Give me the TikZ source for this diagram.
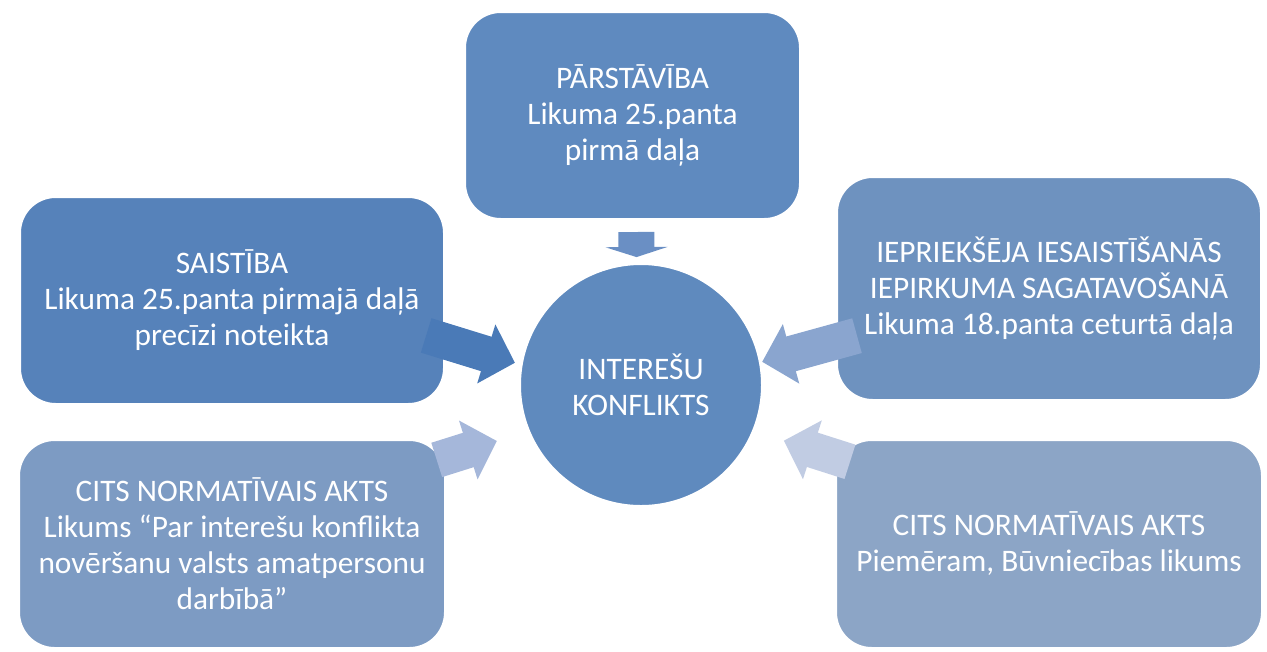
\documentclass[tikz,border=0pt]{standalone}
\usepackage{fontspec}
\setmainfont{Carlito}
\usetikzlibrary{arrows.meta,shadows}

\definecolor{parstC}{HTML}{5F8ABF}
\definecolor{saistC}{HTML}{5682BA}
\definecolor{ieprC}{HTML}{6E92BF}
\definecolor{citsAC}{HTML}{7D9BC3}
\definecolor{citsBC}{HTML}{8CA5C6}
\definecolor{konfC}{HTML}{5F8ABE}
\definecolor{aParst}{HTML}{6A8FC4}
\definecolor{aSaist}{HTML}{4A7AB7}
\definecolor{aIepr}{HTML}{8AA5CF}
\definecolor{aCitsA}{HTML}{A5B7DA}
\definecolor{aCitsB}{HTML}{C1CCE3}

\tikzset{
  box/.style={rectangle, rounded corners=29pt, draw=white, line width=6pt,
    text=white, align=center, inner sep=0pt,
    font=\fontsize{23.5pt}{27pt}\selectfont,
    drop shadow={shadow xshift=1pt, shadow yshift=-1.6pt, opacity=0.28}},
  blk/.style={line width=27pt, -{Triangle[length=22.5pt,width=45pt]}},
}

\begin{document}
\begin{tikzpicture}[x=0.75pt,y=-0.75pt]
\useasboundingbox (0,0) rectangle (1267,651);

% boxes
\node[box, fill=parstC, minimum width=255.75pt, minimum height=159.75pt] (parstaviba) at (632.5,115.5)
  {PĀRSTĀVĪBA\\Likuma 25.panta\\pirmā daļa};
\node[box, fill=saistC, minimum width=322.5pt, minimum height=159.75pt] (saistiba) at (232,300.5)
  {SAISTĪBA\\Likuma 25.panta pirmajā daļā\\precīzi noteikta};
\node[box, fill=ieprC, minimum width=322.5pt, minimum height=171.75pt] (ieprieks) at (1049,288.5)
  {IEPRIEKŠĒJA IESAISTĪŠANĀS\\IEPIRKUMA SAGATAVOŠANĀ\\Likuma 18.panta ceturtā daļa};
\node[box, fill=citsAC, minimum width=324pt, minimum height=160.5pt] (citsA) at (232,544)
  {CITS NORMATĪVAIS AKTS\\Likums “Par interešu konflikta\\novēršanu valsts amatpersonu\\darbībā”};
\node[box, fill=citsBC, minimum width=324pt, minimum height=160.5pt] (citsB) at (1049,544)
  {CITS NORMATĪVAIS AKTS\\Piemēram, Būvniecības likums};

% centre
\node[circle, draw=white, line width=6pt, fill=konfC, minimum size=186pt, inner sep=0pt,
  text=white, align=center, font=\fontsize{23.5pt}{27pt}\selectfont,
  drop shadow={shadow xshift=1pt, shadow yshift=-1.6pt, opacity=0.28}] (konflikts) at (641,385)
  {INTEREŠU\\KONFLIKTS};

% block arrows
\draw[blk, aSaist, shorten <=-19.5pt] (saistiba.-11) -- (konflikts.170);
\draw[blk, aIepr, shorten <=-21pt, shorten >=-3.5pt] (ieprieks.194) -- (konflikts.11);
\draw[blk, aCitsA, shorten <=-12pt, shorten >=20pt] (citsA.22) -- (konflikts.202);
\draw[blk, aCitsB, shorten <=-16.5pt, shorten >=19pt] (citsB.158) -- (konflikts.-22);
\draw[blk, aParst, shorten <=4.5pt, -{Triangle[length=7.5pt,width=46.5pt]}] (parstaviba.-88) -- (konflikts.92);
\end{tikzpicture}
\end{document}
